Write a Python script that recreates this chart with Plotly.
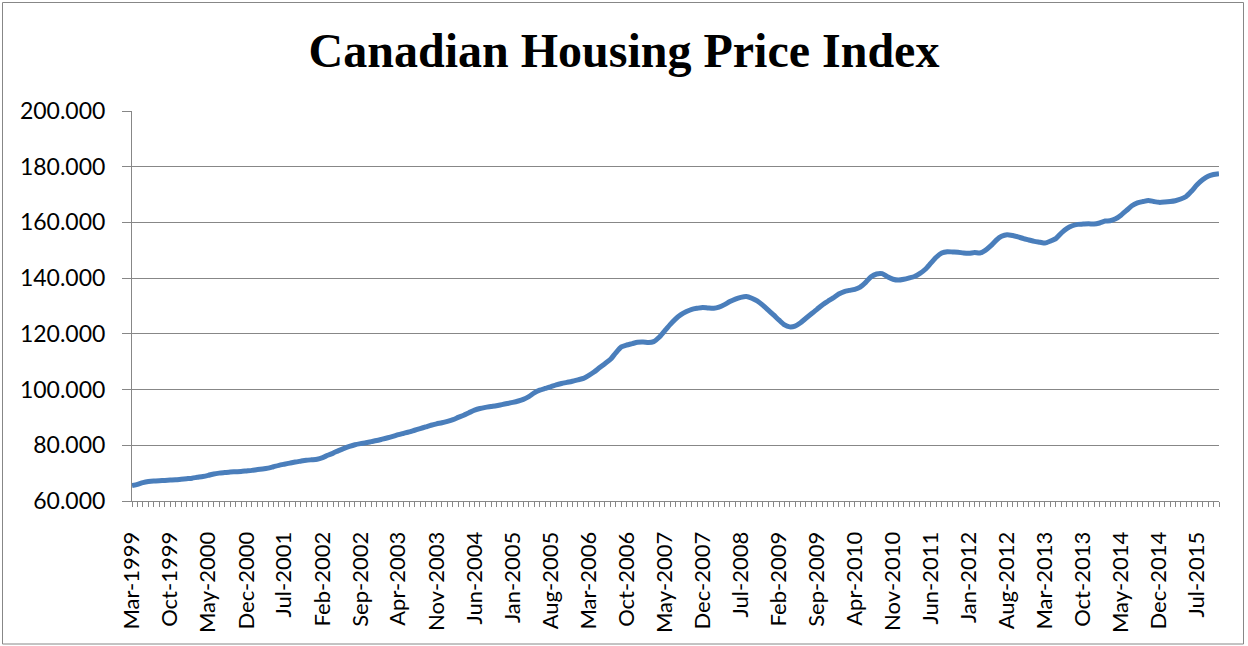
import pandas as pd
import plotly.graph_objects as go

# Monthly index values, Mar-1999 .. Nov-2015
start_month = "1999-03-01"
hpi = [
    65.5, 66.0, 66.6, 67.0, 67.2, 67.3, 67.4, 67.5, 67.6, 67.8,
    68.0, 68.2, 68.5, 68.8, 69.2, 69.7, 70.0, 70.2, 70.4, 70.5,
    70.6, 70.8, 71.0, 71.3, 71.5, 71.8, 72.3, 72.8, 73.2, 73.6,
    74.0, 74.3, 74.6, 74.8, 75.0, 75.6, 76.4, 77.2, 78.1, 78.9,
    79.6, 80.2, 80.6, 80.9, 81.3, 81.7, 82.2, 82.7, 83.2, 83.8,
    84.3, 84.8, 85.4, 86.0, 86.6, 87.2, 87.7, 88.1, 88.6, 89.2,
    90.0, 90.8, 91.7, 92.6, 93.2, 93.6, 93.9, 94.2, 94.6, 95.0,
    95.4, 95.9, 96.5, 97.5, 98.8, 99.8, 100.4, 101.0, 101.7, 102.2,
    102.6, 103.0, 103.5, 104.0, 105.0, 106.3, 107.8, 109.3, 110.8, 113.2,
    115.3, 116.0, 116.5, 117.0, 117.1, 116.9, 117.2, 118.8, 121.0, 123.3,
    125.3, 126.9, 128.0, 128.8, 129.2, 129.5, 129.3, 129.2, 129.6, 130.5,
    131.6, 132.5, 133.1, 133.4, 132.8, 131.8, 130.3, 128.6, 126.8, 124.9,
    123.3, 122.5, 122.8, 124.0, 125.6, 127.2, 128.8, 130.4, 131.7, 132.9,
    134.3, 135.2, 135.6, 136.0, 136.8, 138.5, 140.5, 141.5, 141.6, 140.5,
    139.6, 139.3, 139.6, 140.1, 140.6, 141.7, 143.2, 145.4, 147.5, 149.0,
    149.5, 149.4, 149.3, 149.0, 148.9, 149.2, 149.0, 150.0, 151.6, 153.6,
    155.0, 155.6, 155.3, 154.8, 154.2, 153.7, 153.2, 152.9, 152.6, 153.3,
    154.2, 156.2, 157.8, 158.8, 159.3, 159.4, 159.5, 159.4, 159.8, 160.5,
    160.6, 161.3, 162.6, 164.3, 166.0, 167.0, 167.5, 167.9, 167.5, 167.2,
    167.3, 167.5, 167.8, 168.4, 169.3, 171.3, 173.5, 175.3, 176.6, 177.2,
    177.5,
]
months = pd.date_range(start_month, periods=len(hpi), freq="MS")

title_text = "Canadian Housing Price Index"
y_ticks = [60, 80, 100, 120, 140, 160, 180, 200]

W, H = 1248, 646
L, R, T, B = 132, 29, 111, 145
GRAY = "#878787"
BLUE = "#4A7EBB"

fig = go.Figure()
fig.add_trace(go.Scatter(
    x=months, y=hpi, mode="lines",
    line=dict(color=BLUE, width=5, shape="spline", smoothing=0.6),
    hoverinfo="x+y", showlegend=False,
))

pw, ph = W - L - R, H - T - B
def px_x(p):
    return (p - L) / pw
def px_y(p):
    return (H - B - p) / ph

fig.update_layout(
    width=W, height=H,
    margin=dict(l=L, r=R, t=T, b=B, pad=0, autoexpand=False),
    paper_bgcolor="white", plot_bgcolor="white",
    title=dict(text="<b>" + title_text + "</b>", x=0.5, xanchor="center",
               y=1 - 50 / H, yanchor="middle", yref="container",
               font=dict(family="Liberation Serif", size=48, color="black")),
    font=dict(family="Lato", size=22, color="black"),
    xaxis=dict(
        type="date", range=[months[0], months[-1]],
        tick0=months[0], dtick="M7", tickformat="%b-%Y", tickangle=-90,
        ticks="outside", ticklen=5, tickcolor=GRAY, tickwidth=1,
        minor=dict(dtick="M1", ticks="outside", ticklen=5, tickcolor=GRAY,
                   tickwidth=1, showgrid=False),
        showline=True, linecolor=GRAY, linewidth=1, showgrid=False,
        zeroline=False, ticklabelstandoff=16,
        tickfont=dict(family="Lato", size=22, color="black"),
        automargin=False,
    ),
    yaxis=dict(
        range=[60, 200], tickvals=y_ticks, tickformat=".3f",
        ticks="outside", ticklen=9, tickcolor=GRAY, tickwidth=1,
        showline=True, linecolor=GRAY, linewidth=1,
        showgrid=True, gridcolor=GRAY, gridwidth=1, zeroline=False,
        ticklabelstandoff=12,
        tickfont=dict(family="Lato", size=23, color="black"),
        automargin=False,
    ),
    shapes=[dict(type="rect", xref="paper", yref="paper",
                 x0=px_x(2.5), x1=px_x(1243.5), y0=px_y(644), y1=px_y(2.5),
                 line=dict(color=GRAY, width=1), fillcolor="rgba(0,0,0,0)",
                 layer="below")],
)

fig.write_html("out.html",
               config={"displayModeBar": False},
               post_script="document.body.style.margin='0';"
                           "document.body.style.overflow='hidden';")
